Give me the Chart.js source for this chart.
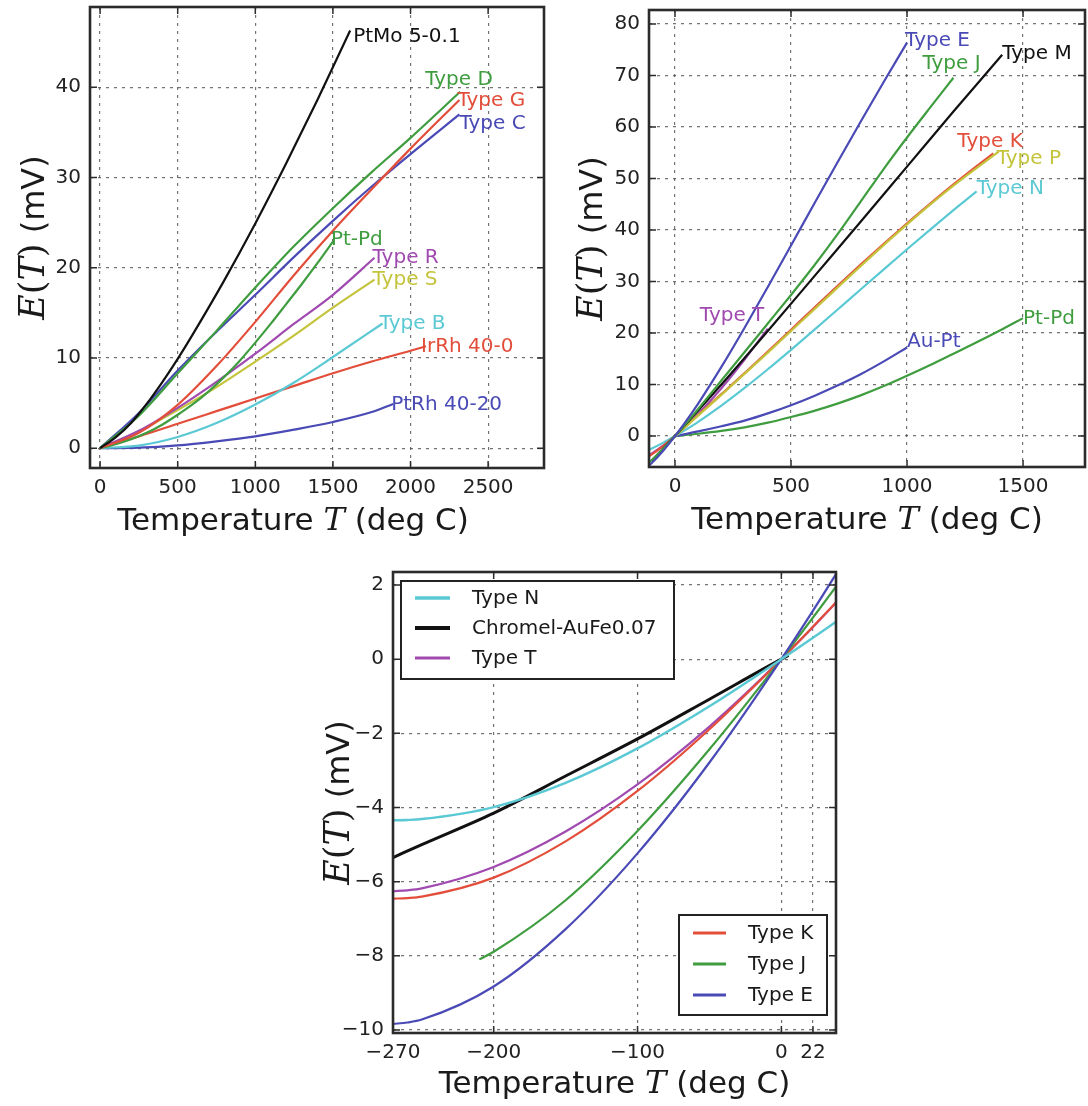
<!DOCTYPE html>
<html>
<head>
<meta charset="utf-8">
<script src="https://cdn.jsdelivr.net/npm/chart.js@4.4.1/dist/chart.umd.min.js"></script>
<style>
  body { margin: 0; background: #fff; }
  #page { position: relative; width: 1088px; height: 1106px; overflow: hidden; background: #fff; }
  canvas { position: absolute; }
</style>
</head>
<body>
<div id="page">
  <canvas id="c1" width="548" height="545" style="left:0px;top:0px"></canvas>
  <canvas id="c2" width="543" height="545" style="left:545px;top:0px"></canvas>
  <canvas id="c3" width="560" height="551" style="left:300px;top:555px"></canvas>
</div>
<script>
// Colours
const BLUE = '#4a4ab6';
const GREEN = '#3f9d3f';
const RED = '#e34e3b';
const CYAN = '#5bc9d4';
const PURPLE = '#a04ab0';
const YELLOW = '#c4c43c';
const BLACK = '#111111';

// ---- high temperature thermocouples (top left) ----
const tPtMo = [0, 100, 200, 300, 400, 500, 600, 800, 1000, 1200, 1400, 1611];
const ePtMo = [0, 1.2, 2.8, 4.9, 7.3, 9.9, 12.7, 18.6, 24.9, 31.6, 38.6, 46.3];
const tTypeD = [0, 250, 500, 750, 1000, 1250, 1500, 1750, 2000, 2320];
const eTypeD = [0, 3.6, 8.3, 13.0, 17.8, 22.4, 26.6, 30.6, 34.4, 39.5];
const tTypeG = [0, 250, 500, 750, 1000, 1250, 1500, 1750, 2000, 2315];
const eTypeG = [0, 1.7, 4.8, 9.1, 14.0, 19.2, 24.1, 28.7, 33.2, 38.6];
const tTypeC = [0, 250, 500, 750, 1000, 1250, 1500, 1750, 2000, 2315];
const eTypeC = [0, 3.9, 8.6, 12.9, 17.0, 21.2, 25.2, 29.0, 32.6, 37.0];
const tPtPd = [0, 100, 200, 300, 400, 500, 600, 700, 800, 900, 1000, 1100, 1200, 1300, 1400, 1500];
const ePtPd = [0, 0.45, 1.0, 1.7, 2.6, 3.7, 4.9, 6.3, 7.9, 9.7, 11.7, 13.8, 16.0, 18.2, 20.5, 22.9];
const tTypeR = [0, 250, 500, 750, 1000, 1250, 1500, 1768];
const eTypeR = [0, 1.92, 4.47, 7.35, 10.47, 13.79, 17.0, 21.1];
const tTypeS = [0, 250, 500, 750, 1000, 1250, 1500, 1768];
const eTypeS = [0, 1.87, 4.23, 6.77, 9.59, 12.5, 15.58, 18.69];
const tTypeB = [0, 250, 500, 750, 1000, 1250, 1500, 1820];
const eTypeB = [0, 0.29, 1.24, 2.78, 4.83, 7.28, 10.1, 13.82];
const tIrRh = [0, 250, 500, 750, 1000, 1250, 1500, 1750, 2000, 2100];
const eIrRh = [0, 1.3, 2.7, 4.1, 5.5, 6.9, 8.3, 9.6, 10.8, 11.3];
const tPtRh = [0, 250, 500, 750, 1000, 1250, 1500, 1750, 1888];
const ePtRh = [0, 0.05, 0.3, 0.75, 1.3, 2.05, 2.9, 4.0, 4.9];

// ---- standard types (top right and bottom) ----
const tTypeE = [-270, -260, -250, -200, -150, -100, -50, 0, 40, 100, 200, 300, 400, 500, 600, 700, 800, 900, 1000];
const eTypeE = [-9.835, -9.797, -9.718, -8.825, -7.279, -5.237, -2.787, 0, 2.42, 6.319, 13.421, 21.036, 28.946, 36.999, 45.093, 53.112, 61.017, 68.787, 76.373];
const tTypeJ = [-210, -200, -150, -100, -50, 0, 40, 100, 200, 300, 400, 500, 600, 700, 800, 900, 1000, 1100, 1200];
const eTypeJ = [-8.095, -7.89, -6.5, -4.633, -2.431, 0, 2.059, 5.269, 10.779, 16.327, 21.848, 27.393, 33.102, 39.132, 45.494, 51.877, 57.953, 63.792, 69.553];
const tTypeK = [-270, -260, -250, -200, -150, -100, -50, 0, 40, 100, 200, 300, 400, 500, 600, 700, 800, 900, 1000, 1100, 1200, 1300, 1372];
const eTypeK = [-6.458, -6.441, -6.404, -5.891, -4.913, -3.554, -1.889, 0, 1.612, 4.096, 8.138, 12.209, 16.397, 20.644, 24.905, 29.129, 33.275, 37.326, 41.276, 45.119, 48.838, 52.41, 54.886];
const tTypeN = [-270, -260, -250, -200, -150, -100, -50, 0, 40, 100, 200, 300, 400, 500, 600, 700, 800, 900, 1000, 1100, 1200, 1300];
const eTypeN = [-4.345, -4.336, -4.313, -3.99, -3.336, -2.407, -1.269, 0, 1.065, 2.774, 5.913, 9.341, 12.974, 16.748, 20.613, 24.527, 28.455, 32.371, 36.256, 40.087, 43.846, 47.513];
const tTypeT = [-270, -260, -250, -200, -150, -100, -50, 0, 40, 100, 200, 300, 400];
const eTypeT = [-6.258, -6.232, -6.18, -5.603, -4.648, -3.379, -1.819, 0, 1.612, 4.279, 9.288, 14.862, 20.872];
const tTypeM = [-100, 0, 200, 400, 600, 800, 1000, 1200, 1410];
const eTypeM = [-4.8, 0, 10.0, 20.4, 31.0, 41.6, 52.3, 63.0, 74.0];
const tTypeP = [0, 200, 400, 600, 800, 1000, 1200, 1395];
const eTypeP = [0, 8.0, 16.2, 24.6, 33.0, 41.1, 48.6, 55.2];
const tAuPt = [0, 100, 200, 300, 400, 500, 600, 700, 800, 900, 1000];
const eAuPt = [0, 0.9, 1.9, 3.0, 4.4, 6.0, 7.8, 9.8, 12.0, 14.5, 17.2];
const tChromel = [-270, -250, -200, -150, -100, -50, 0, 5];
const eChromel = [-5.35, -5.0, -4.15, -3.15, -2.15, -1.08, 0, 0.1];

// Tick values
const xTicks1 = [0, 500, 1000, 1500, 2000, 2500];
const yTicks1 = [0, 10, 20, 30, 40];
const xTicks2 = [0, 500, 1000, 1500];
const yTicks2 = [0, 10, 20, 30, 40, 50, 60, 70, 80];
const xTicks3 = [-270, -200, -100, 0, 22];
const yTicks3 = [-10, -8, -6, -4, -2, 0, 2];

// Legends of the bottom plot
const legendUpper = ['Type N', 'Chromel-AuFe0.07', 'Type T'];
const legendLower = ['Type K', 'Type J', 'Type E'];

const SANS = '"DejaVu Sans", sans-serif';
const SERIF_IT = 'italic 35px "DejaVu Serif", serif';

function series(label, ts, es, color, width) {
    return {
        label: label,
        data: ts.map((t, i) => ({ x: t, y: es[i] })),
        borderColor: color,
        backgroundColor: color,
        borderWidth: width || 2.2,
        pointRadius: 0,
        fill: false,
        cubicInterpolationMode: 'monotone'
    };
}

function fmt(v) {
    return String(v).replace('-', '\u2212');
}

// Draw text made of parts with different fonts, centred on x
function drawParts(ctx, parts, x, y) {
    let total = 0;
    parts.forEach(p => { ctx.font = p.f; total += ctx.measureText(p.t).width; });
    let cx = x - total / 2;
    ctx.textAlign = 'left';
    parts.forEach(p => { ctx.font = p.f; ctx.fillText(p.t, cx, y); cx += ctx.measureText(p.t).width; });
}

const xTitleParts = [
    { t: 'Temperature ', f: '31px ' + SANS },
    { t: 'T', f: 'italic 32px "DejaVu Serif", serif' },
    { t: ' (deg C)', f: '31px ' + SANS }
];
const yTitleParts = [
    { t: 'E', f: SERIF_IT },
    { t: '(', f: '35px "DejaVu Serif", serif' },
    { t: 'T', f: SERIF_IT },
    { t: ')', f: '35px "DejaVu Serif", serif' },
    { t: ' (mV)', f: '32px ' + SANS }
];

function axisTitles(xGap, yGap, xShift) {
    return {
        id: 'axisTitles',
        afterDraw(chart) {
            const { ctx, chartArea: a } = chart;
            ctx.save();
            ctx.fillStyle = '#1a1a1a';
            ctx.textBaseline = 'alphabetic';
            drawParts(ctx, xTitleParts, (a.left + a.right) / 2 + (xShift || 0), a.bottom + xGap);
            ctx.translate(a.left - yGap, (a.top + a.bottom) / 2);
            ctx.rotate(-Math.PI / 2);
            drawParts(ctx, yTitleParts, 0, 0);
            ctx.restore();
        }
    };
}

// Axes frame with inward tick marks on all four sides
const framePlugin = {
    id: 'frame',
    afterDatasetsDraw(chart) {
        const { ctx, chartArea: a, scales } = chart;
        ctx.save();
        ctx.strokeStyle = '#2b2b2b';
        ctx.lineWidth = 1.5;
        ctx.beginPath();
        scales.x.ticks.forEach(t => {
            const px = scales.x.getPixelForValue(t.value);
            ctx.moveTo(px, a.bottom); ctx.lineTo(px, a.bottom - 7);
            ctx.moveTo(px, a.top); ctx.lineTo(px, a.top + 7);
        });
        scales.y.ticks.forEach(t => {
            const py = scales.y.getPixelForValue(t.value);
            ctx.moveTo(a.left, py); ctx.lineTo(a.left + 7, py);
            ctx.moveTo(a.right, py); ctx.lineTo(a.right - 7, py);
        });
        ctx.stroke();
        ctx.lineWidth = 2.6;
        ctx.strokeRect(a.left, a.top, a.right - a.left, a.bottom - a.top);
        ctx.restore();
    }
};

// Coloured name at the end of each curve
function endLabels(shifts) {
    return {
        id: 'endLabels',
        afterDatasetsDraw(chart) {
            const { ctx, scales: { x, y } } = chart;
            ctx.save();
            ctx.font = '20px ' + SANS;
            ctx.textBaseline = 'middle';
            ctx.textAlign = 'left';
            chart.data.datasets.forEach(ds => {
                const s = shifts[ds.label];
                if (!s) return;
                const last = ds.data[ds.data.length - 1];
                ctx.fillStyle = ds.borderColor;
                ctx.fillText(ds.label, x.getPixelForValue(last.x) + s[0], y.getPixelForValue(last.y) + s[1]);
            });
            ctx.restore();
        }
    };
}

// Boxed legends placed inside the axes
function boxLegends(boxes) {
    return {
        id: 'boxLegends',
        afterDraw(chart) {
            const ctx = chart.ctx;
            ctx.save();
            boxes.forEach(b => {
                ctx.fillStyle = '#ffffff';
                ctx.fillRect(b.x, b.y, b.w, b.h);
                ctx.strokeStyle = '#222';
                ctx.lineWidth = 2;
                ctx.strokeRect(b.x, b.y, b.w, b.h);
                b.names.forEach((name, i) => {
                    const ds = chart.data.datasets.find(d => d.label === name);
                    const ry = b.y + b.row0 + i * b.step;
                    ctx.strokeStyle = ds.borderColor;
                    ctx.lineWidth = ds.borderWidth + 1;
                    ctx.beginPath();
                    ctx.moveTo(b.x + b.line0, ry);
                    ctx.lineTo(b.x + b.line0 + b.lineLen, ry);
                    ctx.stroke();
                    ctx.fillStyle = '#1a1a1a';
                    ctx.font = '20px ' + SANS;
                    ctx.textBaseline = 'middle';
                    ctx.textAlign = 'left';
                    ctx.fillText(name, b.x + b.text0, ry + 1);
                });
            });
            ctx.restore();
        }
    };
}

function axis(min, max, ticks, size, isX) {
    return {
        type: 'linear',
        min: min,
        max: max,
        afterBuildTicks: s => { s.ticks = ticks.map(v => ({ value: v })); },
        afterFit: s => {
            // fixed axis box, no extra room kept for the end labels
            if (isX) {
                s.height = size; s.paddingLeft = 0; s.paddingRight = 0;
            } else {
                s.width = size; s.paddingTop = 0; s.paddingBottom = 0;
            }
        },
        ticks: {
            autoSkip: false,
            maxRotation: 0,
            minRotation: 0,
            padding: isX ? 8 : 9,
            color: '#222',
            font: { family: SANS, size: 20 },
            callback: v => fmt(v)
        },
        grid: { color: 'rgba(80,80,80,0.8)', lineWidth: 1.2, drawTicks: false },
        border: { display: false, dash: [3, 5] }
    };
}

function makeChart(id, datasets, ax, plugins) {
    return new Chart(document.getElementById(id), {
        type: 'line',
        data: { datasets: datasets },
        options: {
            responsive: false,
            animation: false,
            events: [],
            layout: { padding: { top: ax.top, right: ax.right, left: 0, bottom: 0 } },
            plugins: { legend: { display: false }, tooltip: { enabled: false } },
            scales: {
                x: axis(ax.xMin, ax.xMax, ax.xTicks, ax.xH, true),
                y: axis(ax.yMin, ax.yMax, ax.yTicks, ax.yW, false)
            }
        },
        plugins: plugins
    });
}

// Top left
makeChart('c1', [
    series('PtMo 5-0.1', tPtMo, ePtMo, BLACK),
    series('Type D', tTypeD, eTypeD, GREEN),
    series('Type G', tTypeG, eTypeG, RED),
    series('Type C', tTypeC, eTypeC, BLUE),
    series('Pt-Pd', tPtPd, ePtPd, GREEN),
    series('Type R', tTypeR, eTypeR, PURPLE),
    series('Type S', tTypeS, eTypeS, YELLOW),
    series('Type B', tTypeB, eTypeB, CYAN),
    series('IrRh 40-0', tIrRh, eIrRh, RED),
    series('PtRh 40-20', tPtRh, ePtRh, BLUE)
], {
    xMin: -65, xMax: 2860, yMin: -2.2, yMax: 48.9,
    xTicks: xTicks1, yTicks: yTicks1,
    top: 7, right: 4, xH: 77, yW: 90
}, [framePlugin, endLabels({
    'PtMo 5-0.1': [3, 6], 'Type D': [-35, -12], 'Type G': [-2, 1], 'Type C': [0, 9],
    'Pt-Pd': [-2, -2], 'Type R': [-2, 0], 'Type S': [-2, 0], 'Type B': [-3, 0],
    'IrRh 40-0': [-5, 1], 'PtRh 40-20': [-2, 1]
}), axisTitles(62, 46, -24)]);

// Top right
makeChart('c2', [
    series('Type E', tTypeE, eTypeE, BLUE),
    series('Type J', tTypeJ, eTypeJ, GREEN),
    series('Type M', tTypeM, eTypeM, BLACK),
    series('Type P', tTypeP, eTypeP, YELLOW),
    series('Type K', tTypeK, eTypeK, RED),
    series('Type N', tTypeN, eTypeN, CYAN),
    series('Type T', tTypeT, eTypeT, PURPLE),
    series('Au-Pt', tAuPt, eAuPt, BLUE),
    series('Pt-Pd', tPtPd, ePtPd, GREEN)
], {
    xMin: -112, xMax: 1767, yMin: -6, yMax: 82.7,
    xTicks: xTicks2, yTicks: yTicks2,
    top: 10, right: 3, xH: 78, yW: 104
}, [framePlugin, endLabels({
    'Type E': [-2, -2], 'Type J': [-31, -14], 'Type M': [0, -1], 'Type K': [-36, -12],
    'Type P': [-2, 7], 'Type N': [0, -2], 'Type T': [-68, -13], 'Au-Pt': [0, -6], 'Pt-Pd': [0, 1]
}), axisTitles(62, 47, 0)]);

// Bottom
makeChart('c3', [
    series('Type N', tTypeN, eTypeN, CYAN, 2.5),
    series('Type E', tTypeE, eTypeE, BLUE, 2.2),
    series('Type J', tTypeJ, eTypeJ, GREEN, 2.2),
    series('Type K', tTypeK, eTypeK, RED, 2.2),
    series('Type T', tTypeT, eTypeT, PURPLE, 2.2),
    series('Chromel-AuFe0.07', tChromel, eChromel, BLACK, 3)
], {
    xMin: -270, xMax: 38, yMin: -10.08, yMax: 2.35,
    xTicks: xTicks3, yTicks: yTicks3,
    top: 17, right: 24, xH: 73, yW: 93
}, [framePlugin, axisTitles(60, 44, 0), boxLegends([
    { names: legendUpper, x: 101, y: 26, w: 273, h: 98, row0: 17, step: 30, line0: 14, lineLen: 35, text0: 71 },
    { names: legendLower, x: 379, y: 360, w: 148, h: 100, row0: 18, step: 31, line0: 14, lineLen: 33, text0: 69 }
])]);
</script>
</body>
</html>
